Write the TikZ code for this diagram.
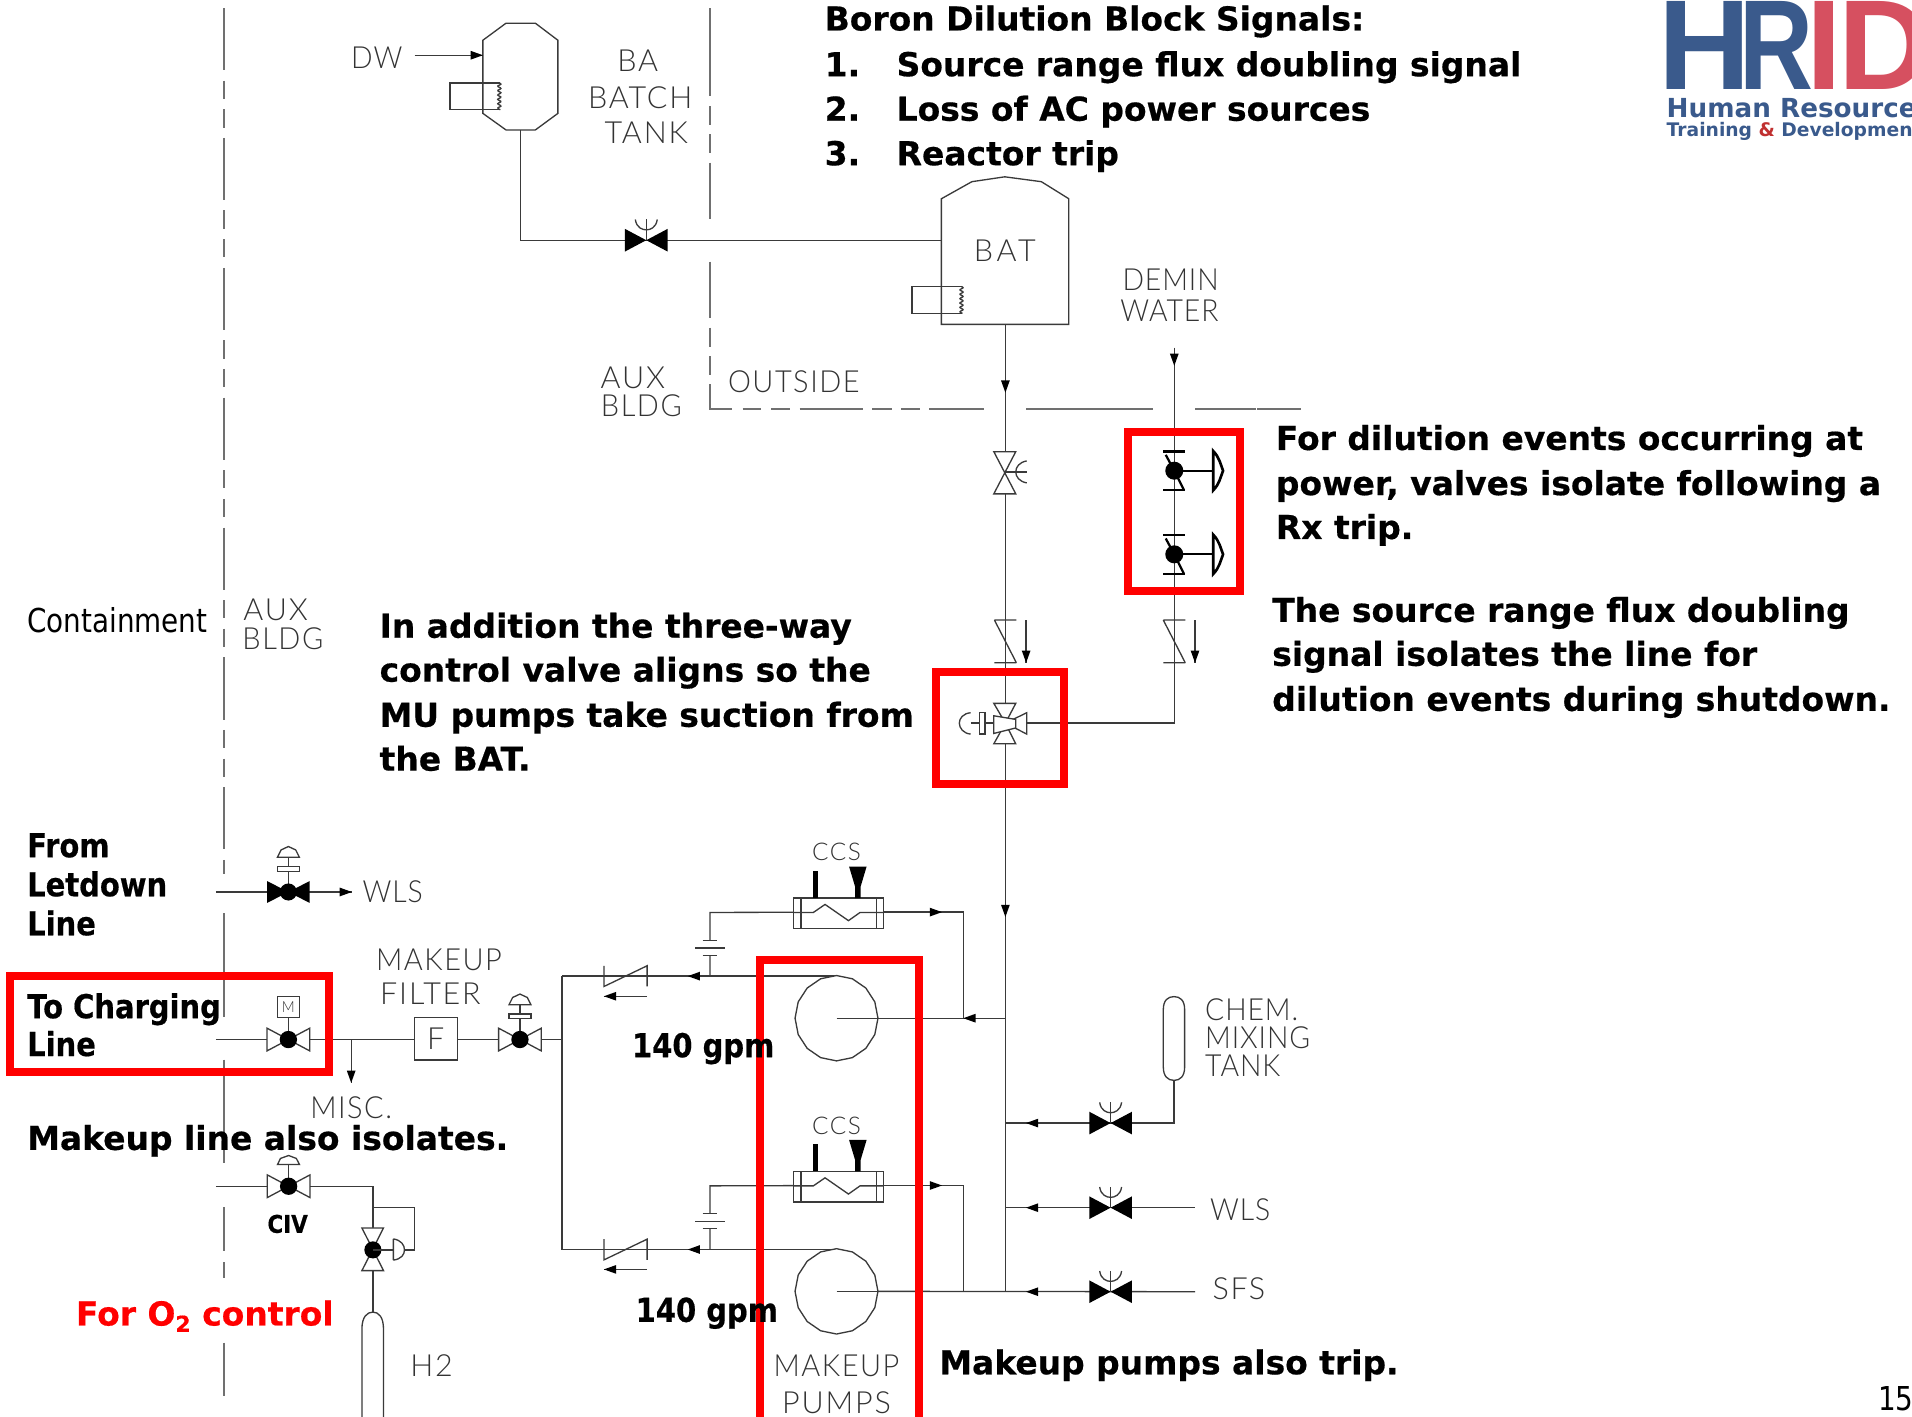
\documentclass[tikz,border=0pt]{standalone}
\usepackage{fontspec}
\setmainfont{DejaVu Sans}
\newfontfamily\boldf[FakeStretch=1.0,FakeBold=0.5]{DejaVu Sans Bold}
\newfontfamily\boldn[FakeStretch=0.88,FakeBold=0.5]{DejaVu Sans Bold}
\newfontfamily\regf[FakeStretch=0.845]{DejaVu Sans}
\newfontfamily\labf[LetterSpace=6]{Lato Light}
\newfontfamily\labm[LetterSpace=5,FakeStretch=0.95]{Lato Light}
\newfontfamily\labn[LetterSpace=3,FakeStretch=0.93]{Lato Light}
\newfontfamily\labw[LetterSpace=12]{Lato Light}
\newfontfamily\logof{Liberation Sans Bold}
\newfontfamily\logos[FakeStretch=1.0]{DejaVu Sans Bold}
\definecolor{linec}{HTML}{3A3A3A}
\definecolor{lab}{HTML}{333333}
\definecolor{dashc}{HTML}{707070}
\definecolor{logob}{HTML}{3A5A8C}
\definecolor{logor}{HTML}{D65060}
\definecolor{logoa}{HTML}{C03030}
\definecolor{redb}{HTML}{FF0000}
\tikzset{
  pipe/.style={draw=linec,line width=0.65pt},
  bound/.style={draw=dashc,line width=0.9pt},
  longdash/.style={bound,dash pattern=on 30.6pt off 5.1pt on 9pt off 5.1pt on 9pt off 5.1pt},
  symb/.style={draw=linec,line width=0.65pt,fill=white},
  redbox/.style={draw=redb,line width=3.96pt},
  boldt/.style={font=\boldf\fontsize{16.2pt}{16.2pt}\selectfont,anchor=base west,inner sep=0pt,text=black},
  boldc/.style={font=\boldn\fontsize{16.2pt}{16.2pt}\selectfont,anchor=base west,inner sep=0pt,text=black},
  regt/.style={font=\regf\fontsize{16.2pt}{16.2pt}\selectfont,anchor=base west,inner sep=0pt,text=black},
  labt/.style={font=\labf\fontsize{15pt}{15pt}\selectfont,inner sep=0pt,text=lab},
  labtm/.style={font=\labm\fontsize{15pt}{15pt}\selectfont,inner sep=0pt,text=lab},
  labtn/.style={font=\labn\fontsize{15pt}{15pt}\selectfont,inner sep=0pt,text=lab},
  labtw/.style={font=\labw\fontsize{15pt}{15pt}\selectfont,inner sep=0pt,text=lab},
  ccst/.style={font=\labf\fontsize{12pt}{12pt}\selectfont,inner sep=0pt,text=lab},
  logoh/.style={font=\logof\fontsize{63pt}{63pt}\selectfont,anchor=base west,inner sep=0pt},
  pics/atip/.style={code={\fill[black] (0,0)--(-10,-3.6)--(-10,3.6)--cycle;}},
  pics/blackbow/.style={code={
    \fill[black] (-17.5,-9.3)--(17.5,9.3)--(17.5,-9.3)--(-17.5,9.3)--cycle;
    \draw[pipe] (0,0)--(0,-17);
    \draw[pipe] (-9,-17) .. controls (-8,-10) and (-3,-8.5) .. (0,-8.5) .. controls (3,-8.5) and (8,-10) .. (9,-17);
  }},
  pics/ballvalve/.style={code={
    \draw[symb] (-17.5,-9.3)--(17.5,9.3)--(17.5,-9.3)--(-17.5,9.3)--cycle;
    \fill[black] (0,0) circle (7.1);
  }},
  pics/domeact/.style={code={
    \draw[pipe] (0,0)--(0,-29);
    \draw[symb] (-9,-21) rectangle (9,-17);
    \draw[symb] (-9,-28.5)--(-6,-34.5)--(0,-37.3)--(6,-34.5)--(9,-28.5)--cycle;
  }},
  pics/airvalve/.style={code={
    \draw[black,line width=1.1pt] (-9,-15.8)--(9,-15.8) (-9,16)--(9,16);
    \draw[black,line width=1.1pt] (-7,-13)--(0,0)--(8,16);
    \fill[black] (0,0) circle (7.4);
    \draw[black,line width=1.1pt] (0,0)--(32,0);
    \draw[black,line width=1.3pt,fill=white] (32,-16) .. controls (37,-11) and (38,-5) .. (40,0) .. controls (38,5) and (37,11) .. (32,16) -- cycle;
  }},
  pics/heater/.style={code={
    \draw[pipe] (41,0)--(0,0)--(0,22)--(41,22);
    \draw[pipe] plot[domain=0:22,samples=45] ({40.5+1.3*sin(\x*100)},\x);
  }},
  pics/hxunit/.style={code={
    \draw[symb] (-35,-11.5) rectangle (38.5,13.5);
    \draw[pipe] (-29,-11.5)--(-29,13.5) (33,-11.5)--(33,13.5);
    \draw[pipe] (-35,0.3)--(-19,0.3)--(-9.4,-6.3)--(9.8,7)--(19.3,0.3)--(38.5,0.3);
    \fill[black] (-19.5,-11.5) rectangle (-15,-34);
    \fill[black] (10.3,-37.4)--(24.7,-37.4)--(19.8,-21)--(19.8,-11.5)--(15.2,-11.5)--(15.2,-21)--cycle;
  }},
  pics/orifice/.style={code={
    \fill[white] (-6,-6) rectangle (6,5.5);
    \draw[pipe] (-6,-6.5)--(6,-6.5) (-12,0)--(12,0) (-6,6)--(6,6);
  }},
  pics/pumpshape/.style={code={
    \draw[symb] plot[domain=0:360,samples=17] ({34*cos(\x)},{35*sin(\x)});
  }},
  pics/checkh/.style={code={
    \draw[pipe] (-17.7,-8.5)--(-17.7,8.5)--(17.7,-8.5)--(17.7,8.5);
  }},
  pics/checkv/.style={code={
    \draw[pipe] (-9,-17.5)--(9,-17.5) (-9,17.5)--(9,17.5) (-9,-17.5)--(9,17.5);
  }},
}
\begin{document}
\begin{tikzpicture}[x=0.6pt,y=-0.6pt]
\useasboundingbox (0,0) rectangle (1568,1162);
\begin{scope}
\clip (0,0) rectangle (1568,1162);
% ---- named points
\coordinate (batchB) at (427,107);
\coordinate (batchC) at (427,197);
\coordinate (batvalve) at (530,197);
\coordinate (batL) at (772,197);
\coordinate (batB) at (824.5,266);
\coordinate (handv) at (824.5,387);
\coordinate (chkL) at (824.5,526);
\coordinate (three) at (824.5,593);
\coordinate (threeR) at (842,593);
\coordinate (jctT) at (824.5,835);
\coordinate (jctC) at (824.5,921);
\coordinate (jctW) at (824.5,990.4);
\coordinate (jctS) at (824.5,1059);
\coordinate (dem) at (963,285);
\coordinate (av1) at (963,386);
\coordinate (av2) at (963,454.6);
\coordinate (chkR) at (963,526);
\coordinate (demC) at (963,593);
\coordinate (ltd) at (177,731.5);
\coordinate (ltdv) at (236.5,731.5);
\coordinate (ltdE) at (288.6,731.5);
\coordinate (chg) at (177,852.5);
\coordinate (mv) at (236.5,852.5);
\coordinate (misc) at (288,852.5);
\coordinate (miscE) at (288,888);
\coordinate (filt) at (357.4,852);
\coordinate (fv) at (426.4,852.5);
\coordinate (hdr) at (461,852.5);
\coordinate (hdrT) at (461,800.5);
\coordinate (hdrB) at (461,1024.7);
\coordinate (civL) at (177,972.8);
\coordinate (civ) at (236.7,972.8);
\coordinate (civC) at (305.8,972.8);
\coordinate (regv) at (305.8,1025);
\coordinate (regT) at (305.8,990);
\coordinate (regC) at (340,990);
\coordinate (regD) at (340,1025);
\coordinate (hTop) at (305.8,1076);
\coordinate (pu1) at (686,835);
\coordinate (pu2) at (686,1059);
\coordinate (hx1) at (686,748);
\coordinate (hx2) at (686,972.2);
\coordinate (cv1) at (513,800.5);
\coordinate (cv2) at (513,1024.7);
\coordinate (or1) at (582.3,777.5);
\coordinate (or2) at (582.3,1001.7);
\coordinate (v3) at (910.8,921);
\coordinate (v4) at (910.8,990.4);
\coordinate (v5) at (910.8,1059.3);
\coordinate (chemB) at (962.8,886);
\coordinate (chemC) at (962.8,921);
\coordinate (wlsE) at (980,990.4);
\coordinate (sfsE) at (980,1059.3);
% ---- boundaries
\draw[longdash] (184,6.6)--(184,717);
\draw[bound] (184,749)--(184,834) (184,869)--(184,954) (184,990)--(184,1026) (184,1035)--(184,1048) (184,1101)--(184,1145);
\draw[bound] (582.3,6.8)--(582.3,78.7) (582.3,87)--(582.3,102.5) (582.3,110)--(582.3,125.8) (582.3,133.4)--(582.3,180)
  (582.3,214.6)--(582.3,261) (582.3,268.7)--(582.3,284.3) (582.3,292)--(582.3,307.5);
\draw[bound] (582.3,315)--(582.3,335.4)--(600.6,335.4);
\draw[bound] (609,335.4)--(624.3,335.4) (632.4,335.4)--(648,335.4) (655.7,335.4)--(707.7,335.4) (715.4,335.4)--(731.3,335.4) (738.8,335.4)--(754.4,335.4) (762,335.4)--(806.9,335.4) (841.6,335.4)--(945.3,335.4) (980,335.4)--(1029.6,335.4) (1031,335.4)--(1067,335.4);
% ---- pipes
\draw[pipe] (batchB)--(batchC)--(batL);
\draw[pipe] (batB)--(jctS);
\draw[pipe] (dem)--(demC)--(threeR);
\draw[pipe] (ltd)--(ltdE);
\draw[pipe] (chg)--(hdr);
\draw[pipe] (misc)--(miscE);
\draw[pipe] (hdrT)--(hdrB);
\draw[pipe] (civL)--(civC)--(hTop);
\draw[pipe] (regT)--(regC)--(regD)--(regv);
\draw[pipe] (hdrT)--(cv1)--(686,800.5);
\draw[pipe] (hdrB)--(cv2)--(686,1024.7);
\draw[pipe] (582.3,800.5)--(or1)--(582.3,748.3)--(hx1);
\draw[pipe] (582.3,1024.7)--(or2)--(582.3,972.5)--(hx2);
\draw[pipe] (hx1)--(790,748)--(790,835);
\draw[pipe] (hx2)--(790,972.2)--(790,1059);
\draw[pipe] (720,835)--(jctT);
\draw[pipe] (720,1059)--(sfsE);
\draw[pipe] (jctC)--(chemC)--(chemB);
\draw[pipe] (jctW)--(wlsE);
% ---- tanks
\draw[symb] (415,19)--(439,19)--(457.5,33)--(457.5,93)--(439,106.6)--(415,106.6)--(396,93)--(396,33)--cycle;
\pic at (369,68) {heater};
\node[labtn] (dw) at (309,47) {DW};
\coordinate (dwS) at (340,45.3);
\coordinate (dwE) at (396,45.3);
\draw[pipe] (dwS)--(dwE);
\pic at (dwE) {atip};
\draw[symb] (772,266)--(772,163)--(797,149)--(824,145)--(854,149)--(876.5,163)--(876.5,266)--cycle;
\pic at (748,235) {heater};
% ---- valves
\pic at (batvalve) {blackbow};
\pic at (v3) {blackbow};
\pic at (v4) {blackbow};
\pic at (v5) {blackbow};
\pic at (ltdv) {domeact};
\fill[black] (219,722.5)--(254,740.5)--(254,722.5)--(219,740.5)--cycle;
\fill[black] (236.5,731.5) circle (7);
\pic at (fv) {domeact};
\pic at (fv) {ballvalve};
\draw[pipe] (mv)--(236.5,834.6);
\draw[symb] (227.6,817) rectangle (245.5,834.6);
\node[font=\labn\fontsize{7.5pt}{7.5pt}\selectfont,text=lab,inner sep=0pt] (mlab) at (236.5,826) {M};
\pic at (mv) {ballvalve};
\draw[pipe] (civ)--(236.7,955);
\draw[symb] (227.6,955)--(230,950)--(236.7,947.6)--(243,950)--(245.6,955)--cycle;
\pic at (civ) {ballvalve};
\draw[symb] (296.8,1007)--(314.5,1042)--(296.8,1042)--(314.5,1007)--cycle;
\fill[black] (regv) circle (7);
\draw[pipe] (regv)--(322.6,1025);
\draw[symb] (322.6,1016)--(322.6,1033.4) (322.6,1016) .. controls (329,1017) and (331.7,1021) .. (331.7,1025) .. controls (331.7,1029) and (329,1032.5) .. (322.6,1033.4);
% hand valve
\draw[symb] (815,370.4)--(833,370.4)--(815,405)--(833,405)--cycle;
\draw[pipe] (handv)--(842,387);
\draw[pipe] (842,378) .. controls (836,379) and (833,383) .. (833,387) .. controls (833,391) and (836,395) .. (842,396);
% check valves
\pic at (chkL) {checkv};
\pic at (chkR) {checkv};
\coordinate (aL1) at (841.5,508.5);\coordinate (aL2) at (841.5,543.5);
\draw[pipe] (aL1)--(aL2); \pic[rotate=-90] at (aL2) {atip};
\coordinate (aR1) at (980,508.5);\coordinate (aR2) at (980,543.5);
\draw[pipe] (aR1)--(aR2); \pic[rotate=-90] at (aR2) {atip};
% air-operated valves
\pic at (av1) {airvalve};
\pic at (av2) {airvalve};
% three-way valve
\draw[symb] (815,576.8)--(833,576.8)--(824.5,593)--cycle;
\draw[symb] (815,610)--(833,610)--(824.5,593)--cycle;
\draw[symb] (842,584.5)--(842,602)--(824.5,593)--cycle;
\draw[symb] (815,587)--(833,590)--(833,597)--(815,601.5)--cycle;
\draw[pipe] (796,593)--(815,593);
\draw[symb] (803,584.5) rectangle (807.8,602);
\draw[symb] (796,584.5) .. controls (790,585) and (786.7,589) .. (786.7,593) .. controls (786.7,597) and (790,601.5) .. (796,602);
% filter
\draw[symb] (339.8,834.6) rectangle (375,869.3);
\node[labt] (ftxt) at (357.4,852) {F};
% cylinder
\draw[symb] (296.8,1170)--(296.8,1090) .. controls (296.8,1080) and (301,1076) .. (305.8,1076) .. controls (310.5,1076) and (314.5,1080) .. (314.5,1090)--(314.5,1170);
% chem tank
\draw[symb] (954,828) .. controls (954,820) and (958,817.3) .. (962.8,817.3) .. controls (967.5,817.3) and (971.5,820) .. (971.5,828)--(971.5,875) .. controls (971.5,883) and (967.5,886) .. (962.8,886) .. controls (958,886) and (954,883) .. (954,875)--cycle;
% pumps, exchangers
\pic at (pu1) {pumpshape};
\pic at (pu2) {pumpshape};
\draw[pipe] (pu1)--(720,835);
\draw[pipe] (pu2)--(720,1059);
\pic at (hx1) {hxunit};
\pic at (hx2) {hxunit};
\pic at (or1) {orifice};
\pic at (or2) {orifice};
\pic at (cv1) {checkh};
\pic at (cv2) {checkh};
\coordinate (a1s) at (530.6,817);\coordinate (a1e) at (495.3,817);
\draw[pipe] (a1s)--(a1e); \pic[rotate=180] at (a1e) {atip};
\coordinate (a2s) at (530.6,1041);\coordinate (a2e) at (495.3,1041);
\draw[pipe] (a2s)--(a2e); \pic[rotate=180] at (a2e) {atip};
% flow arrows
\pic[rotate=-90] at (824.5,322) {atip};
\pic[rotate=-90] at (963,300) {atip};
\pic[rotate=-90] at (824.5,752) {atip};
\pic[rotate=-90] at (miscE) {atip};
\pic at (ltdE) {atip};
\pic[rotate=180] at (564,800.5) {atip};
\pic[rotate=180] at (564,1024.7) {atip};
\pic at (772.5,748) {atip};
\pic at (772.5,972.2) {atip};
\pic[rotate=180] at (790,835) {atip};
\pic[rotate=180] at (841.4,921) {atip};
\pic[rotate=180] at (841.4,990.4) {atip};
\pic[rotate=180] at (841.4,1059.3) {atip};
% ---- drawing labels
\node[labt] (t1) at (523,50) {BA};
\node[labt] (t2) at (525,80) {BATCH};
\node[labt] (t3) at (530,109) {TANK};
\node[labtw] (t4) at (824,206) {BAT};
\node[labtn] (t5) at (960,229) {DEMIN};
\node[labtn] (t6) at (959,255) {WATER};
\node[labt] (t7) at (519,310) {AUX};
\node[labtm] (t8) at (526,333) {BLDG};
\node[labtm] (t9) at (651,313) {OUTSIDE};
\node[labt] (t10) at (226,500) {AUX};
\node[labtm] (t11) at (232,524) {BLDG};
\node[labtn] (t12) at (322,731) {WLS};
\node[labtm] (t13) at (360,787) {MAKEUP};
\node[labt] (t14) at (353,815) {FILTER};
\node[labtm] (t15) at (288,908) {MISC.};
\node[labt] (t16) at (354,1120) {H2};
\node[ccst] (t17) at (686,699) {CCS};
\node[ccst] (t18) at (686,923) {CCS};
\node[labtm] (t19) at (686,1120) {MAKEUP};
\node[labt] (t20) at (686,1150) {PUMPS};
\node[labtn,anchor=west] (t21) at (988,828) {CHEM.};
\node[labtn,anchor=west] (t22) at (988,851) {MIXING};
\node[labtn,anchor=west] (t23) at (988,874) {TANK};
\node[labtn] (t24) at (1017,992) {WLS};
\node[labt] (t25) at (1016,1057) {SFS};
% ---- red boxes
\draw[redbox] (925,354) rectangle (1017,485);
\draw[redbox] (767.6,551) rectangle (872.6,643);
\draw[redbox] (8.5,800.5) rectangle (270,879.5);
\draw[redbox] (623.5,787) rectangle (754,1180);
% ---- bold text
\node[boldt] (b1) at (676,25) {Boron Dilution Block Signals:};
\node[boldt] (b2) at (676,62.5) {1.};
\node[boldt] (b3) at (735,62.5) {Source range flux doubling signal};
\node[boldt] (b4) at (676,99) {2.};
\node[boldt] (b5) at (735,99) {Loss of AC power sources};
\node[boldt] (b6) at (676,135.5) {3.};
\node[boldt] (b7) at (735,135.5) {Reactor trip};
\node[boldt] (c1) at (1046,369) {For dilution events occurring at};
\node[boldt] (c2) at (1046,406) {power, valves isolate following a};
\node[boldt] (c3) at (1046,442) {Rx trip.};
\node[boldt] (d1) at (1043,510) {The source range flux doubling};
\node[boldt] (d2) at (1043,546) {signal isolates the line for};
\node[boldt] (d3) at (1043,583) {dilution events during shutdown.};
\node[boldt] (e1) at (311,523) {In addition the three-way};
\node[boldt] (e2) at (311,559) {control valve aligns so the};
\node[boldt] (e3) at (311,596) {MU pumps take suction from};
\node[boldt] (e4) at (311,632) {the BAT.};
\node[regt] (cont) at (22,519) {Containment};
\node[boldc] (f1) at (22,703) {From};
\node[boldc] (f2) at (22,735) {Letdown};
\node[boldc] (f3) at (22,767) {Line};
\node[boldc] (g1) at (22,835) {To Charging};
\node[boldc] (g2) at (22,866) {Line};
\node[boldt] (h1) at (22,943) {Makeup line also isolates.};
\node[boldc,font=\boldn\fontsize{12pt}{12pt}\selectfont] (civt) at (219,1011) {CIV};
\node[boldt,text=redb] (o2) at (62,1087) {For O\raisebox{-0.35ex}{\fontsize{10.8pt}{10.8pt}\selectfont 2} control};
\node[boldc] (g140a) at (518,867) {140 gpm};
\node[boldc] (g140b) at (521,1084) {140 gpm};
\node[boldt] (tr) at (770,1127) {Makeup pumps also trip.};
\node[regt] (pg) at (1540,1157) {15};
% ---- logo
\node[logoh,text=logob] (lh) at (1359.5,73.3) {H};
\node[logoh,text=logob] (lr) at (1426,73.3) {\scalebox{0.8}[1]{R}};
\node[logoh,text=logor] (li) at (1481,73.3) {I};
\node[logoh,text=logor] (ld) at (1507,73.3) {D};
\node[font=\logos\fontsize{12.9pt}{12.9pt}\selectfont,anchor=base west,inner sep=0pt,text=logob] (l1) at (1366.5,96) {Human Resource};
\node[font=\logos\fontsize{9.2pt}{9.2pt}\selectfont,anchor=base west,inner sep=0pt,text=logob] (l2) at (1366.5,111.6) {Training \textcolor{logoa}{\&} Development};
\end{scope}
\end{tikzpicture}
\end{document}
